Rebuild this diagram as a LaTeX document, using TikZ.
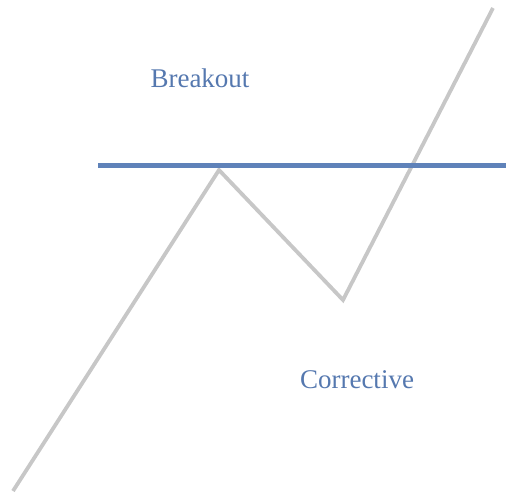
\documentclass[tikz,border=0pt]{standalone}
\usepackage{fontspec}
\setmainfont{Liberation Serif}
\usetikzlibrary{positioning}
\definecolor{lvl}{RGB}{95,130,185}
\definecolor{txtc}{RGB}{85,120,175}
\colorlet{price}{black!22}
\tikzset{
  every node/.style={font=\fontsize{27}{30}\selectfont},
  pricepath/.style={draw=price,line width=3.8pt},
  level/.style={draw=lvl,line width=5.5pt},
  lbl/.style={text=txtc,inner sep=0pt},
}
\begin{document}
\begin{tikzpicture}[x=1pt,y=-1pt]
  \useasboundingbox (0,0) rectangle (506,495);

  % ---------------- price path
  \coordinate (p0) at (13,491);
  \coordinate (p1) at (219,170);
  \coordinate (p2) at (343,300);
  \coordinate (p3) at (493,8);
  \draw[pricepath] (p0) -- (p1) -- (p2) -- (p3);

  % ---------------- breakout level
  \coordinate (l0) at (98,165.5);
  \coordinate (l1) at (506,165.5);
  \draw[level] (l0) -- (l1);

  % ---------------- labels
  \node[lbl] (brk) at (200,78) {Breakout};
  \node[lbl] (cor) at (357,380) {Corrective};
\end{tikzpicture}
\end{document}
